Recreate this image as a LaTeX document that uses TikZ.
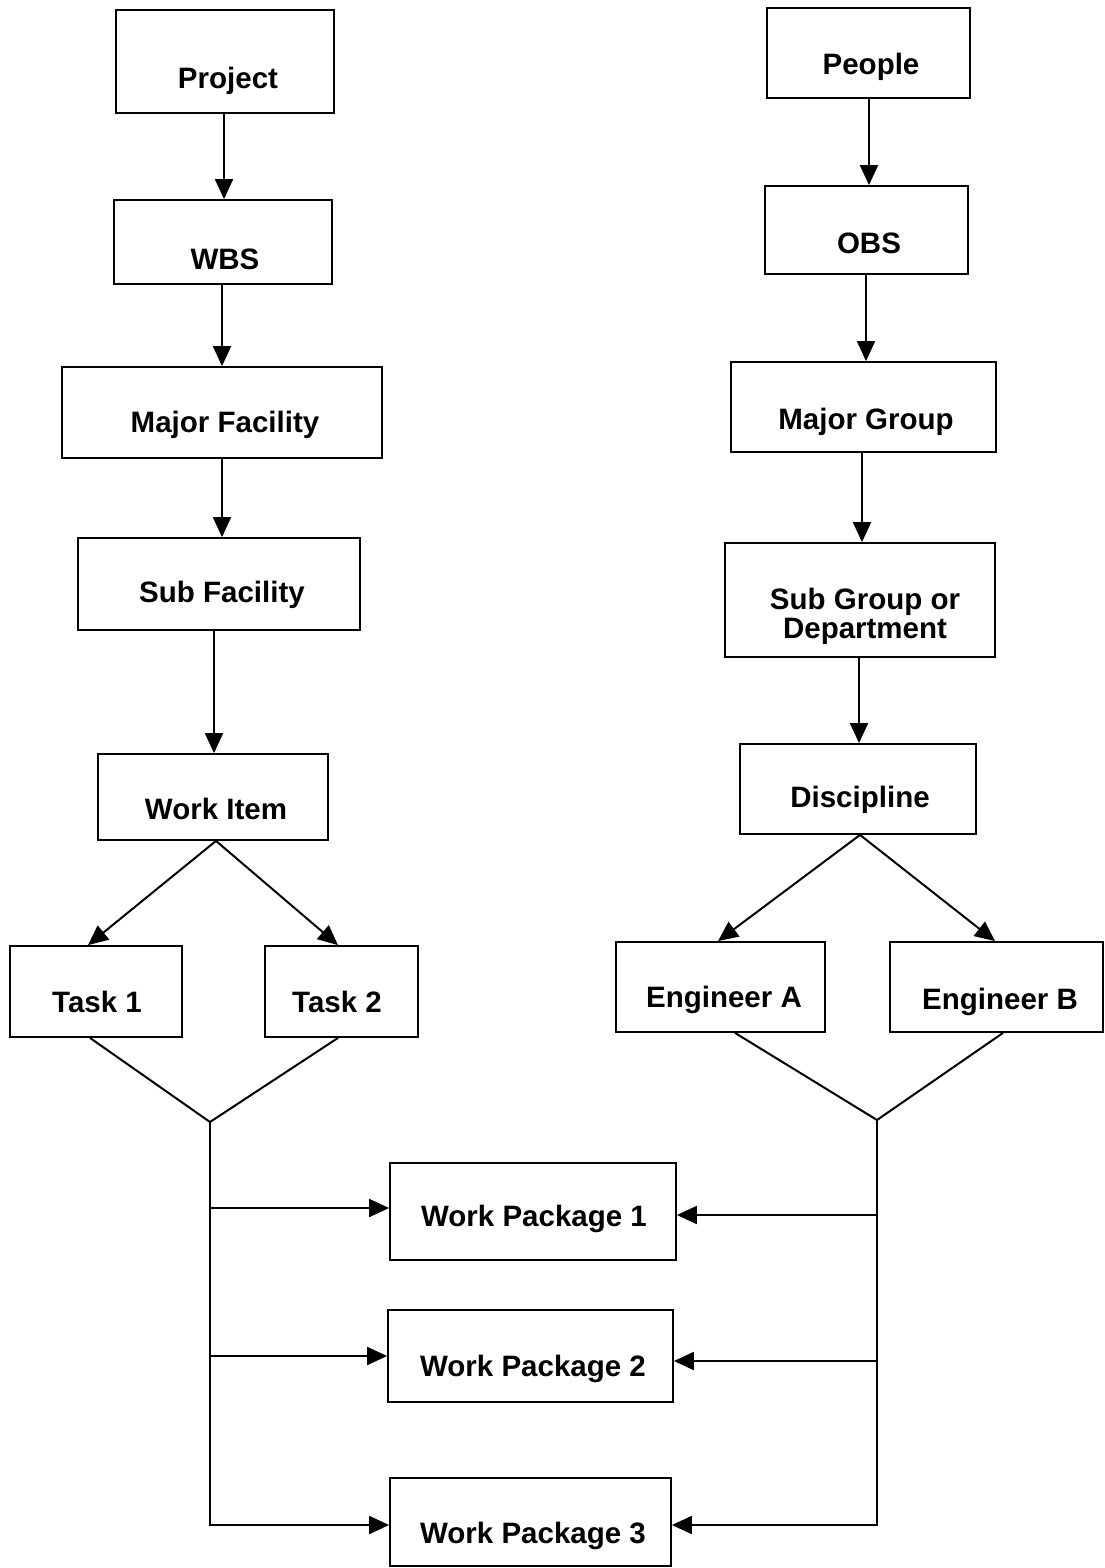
\documentclass[tikz,border=0pt]{standalone}
\usepackage{fontspec}
\setmainfont{Liberation Sans}
\usetikzlibrary{arrows.meta}
\begin{document}
\begin{tikzpicture}[x=1pt,y=-1pt,
  box/.style={draw, line width=1.8pt, rectangle, inner sep=0pt},
  lbl/.style={font=\fontsize{29.5}{31}\selectfont\bfseries, align=center, inner sep=0pt, yshift=-3pt},
  arr/.style={line width=2pt, -{Triangle[length=20pt,width=18pt]}},
  ln/.style={line width=2pt}]
\useasboundingbox (0,0) rectangle (1104,1568);

% ---- left column: project breakdown
\node[box, minimum width=218pt, minimum height=103pt] (project) at (225,61.5) {};
\node[lbl] (project-t) at (228,78) {Project};
\node[box, minimum width=218pt, minimum height=84pt] (wbs) at (223,242) {};
\node[lbl] (wbs-t) at (225,256) {WBS};
\node[box, minimum width=320pt, minimum height=91pt] (majf) at (222,412.5) {};
\node[lbl] (majf-t) at (225,422) {Major Facility};
\node[box, minimum width=282pt, minimum height=92pt] (subf) at (219,584) {};
\node[lbl] (subf-t) at (222,592) {Sub Facility};
\node[box, minimum width=230pt, minimum height=86pt] (witem) at (213,797) {};
\node[lbl] (witem-t) at (216,806) {Work Item};
\node[box, minimum width=172pt, minimum height=91pt] (task1) at (96,991.5) {};
\node[lbl] (task1-t) at (97,999) {Task 1};
\node[box, minimum width=153pt, minimum height=91pt] (task2) at (341.5,991.5) {};
\node[lbl] (task2-t) at (337,999) {Task 2};

% ---- right column: organisation breakdown
\node[box, minimum width=203pt, minimum height=90pt] (people) at (868.5,53) {};
\node[lbl] (people-t) at (871,64) {People};
\node[box, minimum width=203pt, minimum height=88pt] (obs) at (866.5,230) {};
\node[lbl] (obs-t) at (869,240) {OBS};
\node[box, minimum width=265pt, minimum height=90pt] (majg) at (863.5,407) {};
\node[lbl] (majg-t) at (866,419) {Major Group};
\node[box, minimum width=270pt, minimum height=114pt] (subg) at (860,600) {};
\node[lbl] (subg-t) at (865,613) {Sub Group or\\[-2pt]Department};
\node[box, minimum width=236pt, minimum height=90pt] (disc) at (858,789) {};
\node[lbl] (disc-t) at (860,797) {Discipline};
\node[box, minimum width=209pt, minimum height=90pt] (enga) at (720.5,987) {};
\node[lbl] (enga-t) at (724,997) {Engineer A};
\node[box, minimum width=213pt, minimum height=90pt] (engb) at (996.5,987) {};
\node[lbl] (engb-t) at (1000,999) {Engineer B};

% ---- work packages
\node[box, minimum width=286pt, minimum height=97pt] (wp1) at (533,1211.5) {};
\node[lbl] (wp1-t) at (534,1216) {Work Package 1};
\node[box, minimum width=285pt, minimum height=92pt] (wp2) at (530.5,1356) {};
\node[lbl] (wp2-t) at (533,1366) {Work Package 2};
\node[box, minimum width=281pt, minimum height=88pt] (wp3) at (530.5,1522) {};
\node[lbl] (wp3-t) at (533,1533) {Work Package 3};

% ---- vertical chains
\draw[arr] (project.south -| 224,0) -- (wbs.north -| 224,0);
\draw[arr] (wbs.south -| 222,0) -- (majf.north -| 222,0);
\draw[arr] (majf.south -| 222,0) -- (subf.north -| 222,0);
\draw[arr] (subf.south -| 214,0) -- (witem.north -| 214,0);
\draw[arr] (people.south -| 869,0) -- (obs.north -| 869,0);
\draw[arr] (obs.south -| 866,0) -- (majg.north -| 866,0);
\draw[arr] (majg.south -| 862,0) -- (subg.north -| 862,0);
\draw[arr] (subg.south -| 859,0) -- (disc.north -| 859,0);

% ---- splits
\draw[arr] (witem.south -| 216,0) -- (task1.north -| 88,0);
\draw[arr] (witem.south -| 216,0) -- (task2.north -| 338,0);
\draw[arr] (disc.south -| 860,0) -- (enga.north -| 718,0);
\draw[arr] (disc.south -| 860,0) -- (engb.north -| 995,0);

% ---- merges and distribution
\coordinate (tj) at (210,1122);
\coordinate (ej) at (877,1120);
\draw[ln] (task1.south -| 90,0) -- (tj) -- (task2.south -| 338,0);
\draw[ln] (enga.south -| 735,0) -- (ej) -- (engb.south -| 1003,0);
\draw[arr] (tj) -- (210,1525) -- (wp3.west |- 0,1525);
\draw[arr] (ej) -- (877,1525) -- (wp3.east |- 0,1525);
\draw[arr] (210,1208) -- (wp1.west |- 0,1208);
\draw[arr] (210,1356) -- (wp2.west |- 0,1356);
\draw[arr] (877,1215) -- (wp1.east |- 0,1215);
\draw[arr] (877,1361) -- (wp2.east |- 0,1361);
\end{tikzpicture}
\end{document}
